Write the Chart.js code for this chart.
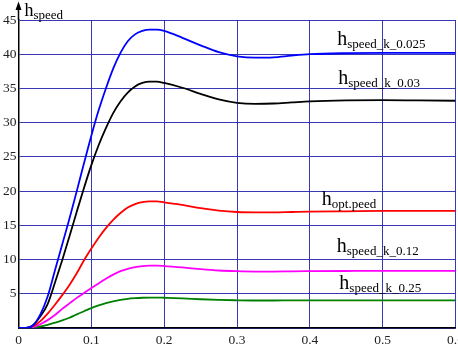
<!DOCTYPE html>
<html>
<head>
<meta charset="utf-8">
<script src="https://cdn.jsdelivr.net/npm/chart.js@4.4.1/dist/chart.umd.min.js"></script>
<style>
  html, body { margin: 0; padding: 0; background: #fff; overflow: hidden; }
  #wrap { position: relative; width: 475px; height: 350px; }
</style>
</head>
<body>
<div id="wrap"><canvas id="grafico"></canvas></div>
<script>
// tiempo (s) y respuestas de h_speed para cada ganancia
var tiempo = [0, 0.01, 0.02, 0.03, 0.04, 0.05, 0.06, 0.07, 0.08, 0.09, 0.10,
  0.11, 0.12, 0.13, 0.14, 0.15, 0.16, 0.17, 0.18, 0.19, 0.20,
  0.225, 0.25, 0.275, 0.30, 0.325, 0.35, 0.375, 0.40,
  0.45, 0.50, 0.55, 0.60];

var hK0025 = [0, 0, 0.4, 2.0, 4.6, 8.4, 12.2, 16.0, 20.0, 24.1, 28.1,
  31.8, 35.0, 37.9, 40.2, 41.9, 42.9, 43.4, 43.6, 43.6, 43.4,
  42.4, 41.3, 40.3, 39.7, 39.5, 39.55, 39.8, 40.0,
  40.15, 40.2, 40.2, 40.2];

var hK003 = [0, 0, 0.4, 1.7, 3.5, 6.6, 9.9, 13.4, 17.0, 20.5, 23.8,
  26.7, 29.2, 31.4, 33.1, 34.4, 35.3, 35.8, 36.0, 36.0, 35.8,
  35.1, 34.2, 33.4, 32.9, 32.75, 32.8, 32.95, 33.1,
  33.25, 33.3, 33.25, 33.2];

var hOpt = [0, 0, 0.25, 1.0, 2.1, 3.4, 4.8, 6.3, 8.0, 9.9, 11.6,
  13.2, 14.6, 15.8, 16.8, 17.6, 18.1, 18.4, 18.5, 18.5, 18.35,
  18.0, 17.5, 17.15, 16.95, 16.9, 16.9, 16.95, 17.0,
  17.05, 17.1, 17.1, 17.1];

var hK012 = [0, 0, 0.12, 0.55, 1.15, 1.9, 2.8, 3.6, 4.4, 5.1, 5.85,
  6.5, 7.2, 7.8, 8.3, 8.65, 8.9, 9.05, 9.1, 9.1, 9.05,
  8.85, 8.6, 8.4, 8.3, 8.25, 8.25, 8.28, 8.3,
  8.33, 8.35, 8.35, 8.35];

var hK025 = [0, 0, 0.06, 0.22, 0.47, 0.77, 1.1, 1.5, 2.0, 2.45, 2.9,
  3.3, 3.65, 3.9, 4.1, 4.25, 4.35, 4.42, 4.45, 4.45, 4.42,
  4.33, 4.2, 4.1, 4.05, 4.02, 4.02, 4.03, 4.03,
  4.04, 4.05, 4.05, 4.05];

var subindices = ['speed_k_0.025', 'speed_k_0.03', 'opt.peed', 'speed_k_0.12', 'speed_k_0.25'];
var colores = ['#0000ff', '#000000', '#ff0000', '#ff00ff', '#008000'];
var series = [hK0025, hK003, hOpt, hK012, hK025];

var puntos = function(valores){
  return tiempo.map(function(t, i){ return {x: t, y: valores[i]}; });
};

var serif = "'Liberation Serif', 'DejaVu Serif', serif";
var rejilla = 'rgba(36,36,176,0.9)';

//--------------------------------------------------------------------------------------
// flecha del eje y, titulo y nombres de las curvas
//--------------------------------------------------------------------------------------
var etiquetas = {
  id: 'etiquetas',
  afterDraw: function(chart){
    var ctx = chart.ctx;
    var area = chart.chartArea;
    var sx = chart.scales.x, sy = chart.scales.y;
    var x0 = sx.getPixelForValue(0);

    ctx.save();
    // prolongacion del eje y con flecha
    ctx.strokeStyle = '#000';
    ctx.lineWidth = 1.5;
    ctx.beginPath();
    ctx.moveTo(x0, area.top);
    ctx.lineTo(x0, 8);
    ctx.stroke();
    ctx.fillStyle = '#000';
    ctx.beginPath();
    ctx.moveTo(x0, 1.5);
    ctx.lineTo(x0 - 3, 10);
    ctx.lineTo(x0 + 3, 10);
    ctx.closePath();
    ctx.fill();

    var texto = function(x, y, sub, grande){
      ctx.textBaseline = 'alphabetic';
      ctx.textAlign = 'left';
      ctx.font = grande + 'px ' + serif;
      ctx.fillText('h', x, y);
      var w = ctx.measureText('h').width;
      ctx.font = '13px ' + serif;
      ctx.fillText(sub, x + w, y + 3);
    };

    ctx.fillStyle = '#000';
    texto(x0 + 6, 15.5, 'speed', 18);

    var pos = [[0.4375, 41.3], [0.439, 35.7], [0.4165, 17.9], [0.437, 11.05], [0.4405, 5.7]];
    for (var i = 0; i < pos.length; i++) {
      texto(sx.getPixelForValue(pos[i][0]), sy.getPixelForValue(pos[i][1]), subindices[i], 20);
    }
    ctx.restore();
  }
};

var ctx = document.getElementById('grafico').getContext('2d');
var grafico = new Chart(ctx, {
  type: 'line',
  data: {
    datasets: series.map(function(s, i){
      return {
        label: 'h' + subindices[i],
        data: puntos(s),
        borderColor: colores[i],
        borderWidth: 1.8,
        pointRadius: 0,
        fill: false,
        cubicInterpolationMode: 'monotone'
      };
    })
  },
  options: {
    responsive: true,
    maintainAspectRatio: false,
    animation: false,
    layout: { padding: { top: 20, left: 0, right: 19.5, bottom: 0 } },
    plugins: {
      legend: { display: false },
      tooltip: { enabled: false }
    },
    scales: {
      x: {
        type: 'linear',
        min: 0,
        max: 0.6,
        afterFit: function(s){ s.height = 22; },
        ticks: {
          stepSize: 0.1,
          padding: 4,
          color: '#222',
          font: { family: serif, size: 13.5 },
          maxRotation: 0
        },
        grid: { color: rejilla, lineWidth: 1, drawTicks: false },
        border: { color: '#000', width: 1.5 }
      },
      y: {
        min: 0,
        max: 45,
        afterFit: function(s){ s.width = 18.5; },
        ticks: {
          stepSize: 5,
          padding: 2,
          color: '#222',
          font: { family: serif, size: 13.5 },
          callback: function(v){ return v === 0 ? '' : v; }
        },
        grid: { color: rejilla, lineWidth: 1, drawTicks: false },
        border: { color: '#000', width: 1.5 }
      }
    }
  },
  plugins: [etiquetas]
});
</script>
</body>
</html>
